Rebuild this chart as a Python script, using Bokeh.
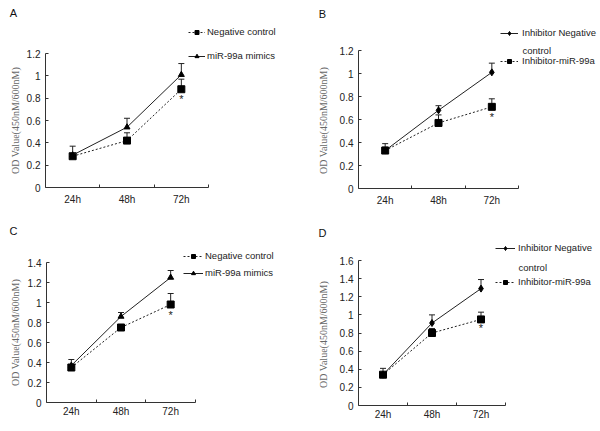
import math
from bokeh.plotting import figure
from bokeh.models import (Range1d, FixedTicker, NumeralTickFormatter, Whisker, TeeHead,
                          ColumnDataSource, Legend, LegendItem, Label)
from bokeh.layouts import column, row
from bokeh.core.properties import value
from bokeh.embed import file_html
from bokeh.resources import INLINE

# ---------------- data ----------------
categories = ["24h", "48h", "72h"]
y_title = "OD Value(450nM/600nM)"

# Panel A
a_nc = [0.28, 0.42, 0.88]
a_nc_err = [0.02, 0.07, 0.09]
a_mim = [0.29, 0.54, 1.01]
a_mim_err = [0.08, 0.08, 0.10]
a_star = 0.79
a_ymax = 1.2

# Panel B
b_inc = [0.33, 0.68, 1.01]
b_inc_err = [0.06, 0.04, 0.08]
b_inh = [0.33, 0.57, 0.71]
b_inh_err = [0.03, 0.07, 0.07]
b_star = 0.62
b_ymax = 1.2

# Panel C
c_nc = [0.35, 0.75, 0.98]
c_nc_err = [0.03, 0.02, 0.11]
c_mim = [0.37, 0.86, 1.25]
c_mim_err = [0.06, 0.04, 0.07]
c_star = 0.88
c_ymax = 1.4

# Panel D
d_inc = [0.34, 0.91, 1.29]
d_inc_err = [0.07, 0.09, 0.10]
d_inh = [0.34, 0.80, 0.95]
d_inh_err = [0.02, 0.05, 0.08]
d_star = 0.85
d_ymax = 1.6

FONT = "Liberation Sans"
SERIF = "Liberation Serif"
INK = "#222222"


def conv(g, X, Y):
    """screenshot pixel -> screen units relative to the (full-figure) frame"""
    return X - g["ox"], (g["oy"] + g["H"]) - Y


def make_panel(g, series, ymax, star_y, letter, legend_centers, legend_x, glyph_w, standoff,
               extra_label=None):
    W, H = g["W"], g["H"]
    n_cat = len(categories)
    kx = (g["fr"] - g["fl"]) / n_cat
    ky = (g["fb"] - g["ft"]) / ymax
    x0 = -(g["fl"] - g["ox"]) / kx
    x1 = n_cat + (g["ox"] + W - g["fr"]) / kx
    y0 = -(g["oy"] + H - g["fb"]) / ky
    y1 = ymax + (g["ft"] - g["oy"]) / ky

    p = figure(width=W, height=H, output_backend="svg", toolbar_location=None, title=None,
               x_range=Range1d(x0, x1), y_range=Range1d(y0, y1),
               min_border=0, min_border_left=0, min_border_right=0,
               min_border_top=0, min_border_bottom=0)
    p.outline_line_color = None
    p.xgrid.visible = False
    p.ygrid.visible = False
    p.background_fill_color = "white"
    p.border_fill_color = "white"

    xs = [i + 0.5 for i in range(n_cat)]

    # x axis (drawn at y = 0, limited to the category span)
    xa = p.xaxis[0]
    xa.fixed_location = 0
    xa.bounds = (0, n_cat)
    xa.ticker = FixedTicker(ticks=xs, minor_ticks=list(range(1, n_cat + 1)))
    xa.major_label_overrides = {x: c for x, c in zip(xs, categories)}
    xa.major_tick_in = 0
    xa.major_tick_out = 0
    xa.minor_tick_in = 3
    xa.minor_tick_out = 0
    xa.minor_tick_line_color = "#333333"
    xa.axis_line_color = "#333333"
    xa.major_label_text_font = FONT
    xa.major_label_text_font_size = "10px"
    xa.major_label_text_color = INK
    xa.major_label_standoff = g["xstand"]

    # y axis (drawn at x = 0)
    ya = p.yaxis[0]
    ya.fixed_location = 0
    ya.bounds = (0, ymax)
    n = int(round(ymax / 0.2))
    ya.ticker = FixedTicker(ticks=[round(0.2 * k, 1) for k in range(n + 1)], minor_ticks=[])
    ya.formatter = NumeralTickFormatter(format="0.[0]")
    ya.major_tick_in = 3
    ya.major_tick_out = 0
    ya.major_tick_line_color = "#333333"
    ya.axis_line_color = "#333333"
    ya.major_label_text_font = FONT
    ya.major_label_text_font_size = "10px"
    ya.major_label_text_color = INK
    ya.major_label_standoff = 5

    items = []
    for s in series:
        src = ColumnDataSource(dict(x=xs, y=s["y"],
                                    up=[v + e for v, e in zip(s["y"], s["err"])]))
        w = Whisker(base="x", upper="up", lower="y", source=src, line_color=INK,
                    line_width=1, upper_head=TeeHead(size=6, line_color=INK, line_width=1),
                    lower_head=None)
        p.add_layout(w)
        lr = p.line("x", "y", source=src, line_color=INK, line_width=1,
                    line_dash=s["dash"])
        sr = p.scatter("x", "y", source=src, marker=s["marker"], size=s["size"],
                       fill_color="black", line_color="black")
        items.append(LegendItem(label=s["label"], renderers=[lr, sr]))

    p.text(x=[xs[-1]], y=[star_y], text=["*"], text_font=value(FONT),
           text_font_size="11px", text_align="center", text_baseline="middle",
           text_color=INK)

    # legend
    item_h = 10
    spacing = legend_centers[1] - legend_centers[0] - item_h
    top = legend_centers[0] - item_h / 2
    lh = 2 * item_h + spacing
    vx, vy = conv(g, legend_x, top + lh)
    leg = Legend(items=items, location=(vx, vy), orientation="vertical", padding=0,
                 margin=0, spacing=spacing, glyph_width=glyph_w, glyph_height=item_h,
                 label_height=item_h, label_standoff=standoff, border_line_color=None,
                 background_fill_alpha=0, label_text_font=FONT,
                 label_text_font_size="9.5px", label_text_color=INK)
    p.add_layout(leg)

    if extra_label is not None:
        tx, ty, txt = extra_label
        lx, ly = conv(g, tx, ty)
        p.add_layout(Label(x=lx, y=ly, x_units="screen", y_units="screen", text=txt,
                           text_font=FONT, text_font_size="9.5px", text_color=INK,
                           text_align="left", text_baseline="middle"))

    # panel letter
    lx, ly = conv(g, g["letter"][0], g["letter"][1])
    p.add_layout(Label(x=lx, y=ly, x_units="screen", y_units="screen", text=letter,
                       text_font=FONT, text_font_size="11px", text_color="#111111",
                       text_align="center", text_baseline="middle"))

    # y axis title
    tx, ty = conv(g, g["ytitle"][0], g["ytitle"][1])
    p.add_layout(Label(x=tx, y=ty, x_units="screen", y_units="screen", text=y_title,
                       angle=math.pi / 2, text_font=SERIF, text_font_size="10px",
                       text_color="#666666", text_align="center", text_baseline="middle"))
    return p


# geometry in screenshot pixels (layout only)
gA = dict(ox=0, oy=0, W=300, H=215, fl=45, fr=208, ft=53, fb=187, xstand=6,
          letter=(13, 12), ytitle=(15, 120))
gB = dict(ox=300, oy=0, W=300, H=215, fl=358, fr=518, ft=50, fb=188, xstand=6,
          letter=(322, 13), ytitle=(323, 120))
gC = dict(ox=0, oy=215, W=300, H=216, fl=46, fr=195, ft=262, fb=402, xstand=3,
          letter=(13, 230), ytitle=(15, 332))
gD = dict(ox=300, oy=215, W=300, H=216, fl=358, fr=505, ft=260, fb=405, xstand=3,
          letter=(322, 232), ytitle=(323, 334))

pA = make_panel(gA, [
    dict(y=a_nc, err=a_nc_err, marker="square", size=7, dash="2 2", label="Negative control"),
    dict(y=a_mim, err=a_mim_err, marker="triangle", size=6, dash="solid", label="miR-99a mimics"),
], a_ymax, a_star, "A", (33, 56), 188, 17, 2)

pB = make_panel(gB, [
    dict(y=b_inc, err=b_inc_err, marker="diamond", size=7, dash="solid", label="Inhibitor Negative"),
    dict(y=b_inh, err=b_inh_err, marker="square", size=7, dash="2 2", label="Inhibitor-miR-99a"),
], b_ymax, b_star, "B", (34, 61), 500, 18, 4, extra_label=(522, 50, "control"))

pC = make_panel(gC, [
    dict(y=c_nc, err=c_nc_err, marker="square", size=7, dash="2 2", label="Negative control"),
    dict(y=c_mim, err=c_mim_err, marker="triangle", size=6, dash="solid", label="miR-99a mimics"),
], c_ymax, c_star, "C", (257, 273), 183, 20, 2)

pD = make_panel(gD, [
    dict(y=d_inc, err=d_inc_err, marker="diamond", size=7, dash="solid", label="Inhibitor Negative"),
    dict(y=d_inh, err=d_inh_err, marker="square", size=7, dash="2 2", label="Inhibitor-miR-99a"),
], d_ymax, d_star, "D", (249, 282), 495, 20, 3, extra_label=(518, 267, "control"))

layout = column(row(pA, pB), row(pC, pD))
open("out.html", "w").write(file_html(layout, INLINE))
